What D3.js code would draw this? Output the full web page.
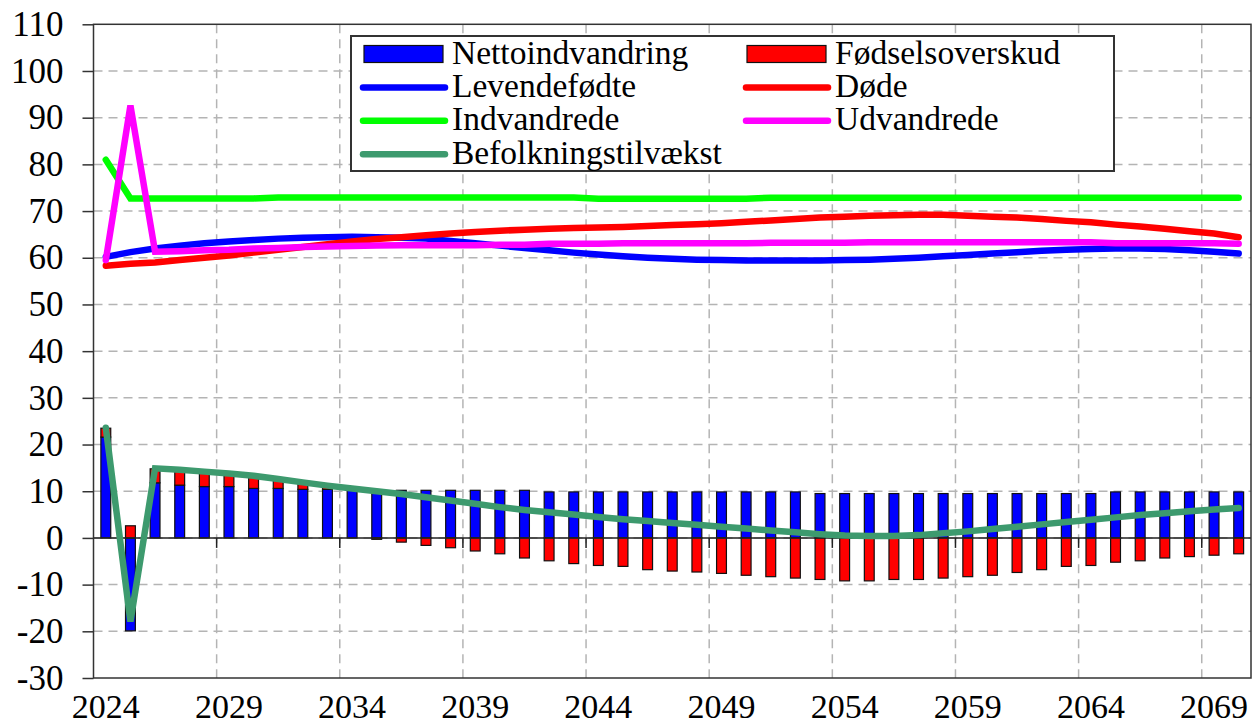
<!DOCTYPE html>
<html>
<head>
<meta charset="utf-8">
<script src="https://cdn.jsdelivr.net/npm/d3@7"></script>
</head>
<body style="margin:0">
<div id="chartArea"></div>
<script>
const w = 1254;
const h = 725;
const margin = {top: 24.3, right: 3, bottom: 47, left: 93.5};
const serif = `"Liberation Serif"`;

const years = d3.range(2024, 2071);
const xTickLabels = ["2024", "2029", "2034", "2039", "2044", "2049", "2054", "2059", "2064", "2069"];
const yTicks = [-30, -20, -10, 0, 10, 20, 30, 40, 50, 60, 70, 80, 90, 100, 110];

// bars
const nettoindvandring = [21.6, -19.9, 11.8, 11.3, 11.0, 11.0, 10.6, 10.6, 10.4, 10.4, 10.3, 10.3,
    10.2, 10.2, 10.2, 10.2, 10.2, 10.2,
    9.85, 9.85, 9.85, 9.85, 9.85, 9.85, 9.85, 9.85, 9.85, 9.85, 9.85,
    9.5, 9.5, 9.5, 9.5, 9.5, 9.5, 9.5, 9.5, 9.5, 9.5, 9.5, 9.5,
    9.85, 9.85, 9.85, 9.85, 9.85, 9.85];
const fodselsoverskud = [1.9, 2.6, 3.0, 3.1, 3.0, 2.7, 2.5, 1.9, 1.3, 0.7, 0.2,
    -0.3, -0.9, -1.6, -2.1, -2.8, -3.4, -4.3, -4.9, -5.5, -5.9, -6.1, -6.8, -7.1, -7.3, -7.6, -8.0, -8.3, -8.6, -8.9, -9.2,
    -9.2, -8.9, -8.9, -8.6, -8.3, -8.0, -7.4, -6.8, -6.1, -5.9, -5.2, -4.9, -4.3, -4.0, -3.7, -3.4];

// lines
const levendefodte = [60.2, 61.2, 62.0, 62.6, 63.1, 63.5, 63.8, 64.1, 64.3, 64.4,
    64.5, 64.4, 64.3, 64.1, 63.6, 63.1, 62.6, 62.1, 61.6, 61.1,
    60.7, 60.3, 60.0, 59.8, 59.6, 59.5, 59.4, 59.4, 59.4, 59.4,
    59.5, 59.6, 59.8, 60.0, 60.3, 60.6, 60.9, 61.2, 61.5, 61.7,
    61.9, 62.0, 62.0, 61.9, 61.6, 61.3, 60.9];
const dode = [58.3, 58.7, 59.0, 59.5, 60.0, 60.5, 61.1, 61.7, 62.3, 62.9,
    63.5, 64.0, 64.4, 64.8, 65.2, 65.5, 65.8, 66.0, 66.2, 66.4,
    66.5, 66.6, 66.8, 67.0, 67.2, 67.4, 67.7, 68.0, 68.3, 68.6,
    68.8, 69.0, 69.1, 69.2, 69.2, 69.0, 68.8, 68.6, 68.3, 67.9,
    67.6, 67.1, 66.7, 66.2, 65.7, 65.2, 64.4];
const indvandrede = [81.0, 72.7, 72.7, 72.7, 72.7, 72.7, 72.7,
    72.9, 72.9, 72.9, 72.9, 72.9, 72.9, 72.9, 72.9, 72.9, 72.9, 72.9, 72.9, 72.9,
    72.65, 72.65, 72.65, 72.65, 72.65, 72.65, 72.65,
    72.85, 72.85, 72.85, 72.85, 72.85, 72.85, 72.85, 72.85, 72.85, 72.85,
    72.85, 72.85, 72.85, 72.85, 72.85, 72.85, 72.85, 72.85, 72.85, 72.85];
const udvandrede = [59.5, 92.6, 61.3, 61.4, 61.6, 61.7, 62.0, 62.1, 62.3, 62.4, 62.5, 62.6,
    62.7, 62.7, 62.7, 62.7, 62.8, 62.8, 63.0, 63.0, 63.0,
    63.1, 63.1, 63.1, 63.1, 63.1, 63.1,
    63.2, 63.2, 63.2, 63.2,
    63.3, 63.3, 63.3, 63.3, 63.3, 63.3, 63.3, 63.3, 63.3, 63.3,
    63.1, 63.1, 63.1, 63.1, 63.1, 63.0];
const befolkningstilvaekst = [23.6, -17.9, 14.9, 14.6, 14.2, 13.8, 13.3, 12.6, 11.9, 11.2,
    10.6, 10.0, 9.4, 8.7, 8.0, 7.3, 6.6, 6.0, 5.5, 5.0,
    4.5, 4.0, 3.6, 3.2, 2.8, 2.4, 2.0, 1.6, 1.2, 0.8,
    0.5, 0.4, 0.4, 0.6, 1.0, 1.4, 1.9, 2.4, 2.9, 3.4,
    3.9, 4.4, 4.9, 5.3, 5.7, 6.1, 6.4];

const barSeries = [
    {key: "Nettoindvandring", values: nettoindvandring, color: "#0000ff"},
    {key: "Fødselsoverskud", values: fodselsoverskud, color: "#ff0000"}
];
const lineSeries = [
    {key: "Levendefødte", values: levendefodte, color: "#0000ff"},
    {key: "Døde", values: dode, color: "#ff0000"},
    {key: "Indvandrede", values: indvandrede, color: "#00ff00"},
    {key: "Udvandrede", values: udvandrede, color: "#ff00ff"},
    {key: "Befolkningstilvækst", values: befolkningstilvaekst, color: "#3d9a6e"}
];

const svg = d3.select("#chartArea")
    .append("svg")
    .attr("width", w)
    .attr("height", h)
    .style("font-family", serif);

const x = d3.scaleBand()
    .domain(years)
    .range([margin.left, w - margin.right]);

const y = d3.scaleLinear()
    .domain([-30, 110])
    .range([h - margin.bottom, margin.top]);

const plotLeft = margin.left, plotRight = w - margin.right;
const plotTop = margin.top, plotBottom = h - margin.bottom;

// grid
const grid = svg.append("g")
    .attr("stroke", "#b4b4b4")
    .attr("stroke-width", 1.5)
    .attr("stroke-dasharray", "9,6");

grid.selectAll(".hgrid")
    .data(yTicks.filter(t => t > -30 && t < 110))
    .enter()
    .append("line")
    .attr("x1", plotLeft).attr("x2", plotRight)
    .attr("y1", d => y(d)).attr("y2", d => y(d));

grid.selectAll(".vgrid")
    .data(xTickLabels.slice(1))
    .enter()
    .append("line")
    .attr("x1", d => x(+d)).attr("x2", d => x(+d))
    .attr("y1", plotTop).attr("y2", plotBottom);

// stacked bars (diverging)
const table = years.map((yr, i) => {
    let row = {year: yr};
    barSeries.forEach(s => row[s.key] = s.values[i]);
    return row;
});

const stacked = d3.stack()
    .keys(barSeries.map(s => s.key))
    .offset(d3.stackOffsetDiverging)(table);

const barW = x.bandwidth() * 0.4;

svg.append("g")
    .selectAll("g")
    .data(stacked)
    .enter()
    .append("g")
    .attr("fill", (d, i) => barSeries[i].color)
    .selectAll("rect")
    .data(d => d)
    .enter()
    .append("rect")
    .attr("x", d => x(d.data.year) + (x.bandwidth() - barW) / 2)
    .attr("y", d => y(Math.max(d[0], d[1])))
    .attr("width", barW)
    .attr("height", d => Math.abs(y(d[0]) - y(d[1])))
    .attr("stroke", "#111")
    .attr("stroke-width", 1.2);

// zero line with ticks
svg.append("line")
    .attr("x1", plotLeft).attr("x2", plotRight)
    .attr("y1", y(0)).attr("y2", y(0))
    .attr("stroke", "#222")
    .attr("stroke-width", 1.5);

svg.selectAll(".ztick")
    .data(xTickLabels.slice(1))
    .enter()
    .append("line")
    .attr("x1", d => x(+d)).attr("x2", d => x(+d))
    .attr("y1", y(0)).attr("y2", y(0) + 10)
    .attr("stroke", "#222")
    .attr("stroke-width", 1.5);

// lines
const line = d3.line()
    .x((d, i) => x(years[i]) + x.bandwidth() / 2)
    .y(d => y(d));

svg.append("g")
    .selectAll("path")
    .data(lineSeries)
    .enter()
    .append("path")
    .attr("d", d => line(d.values))
    .attr("fill", "none")
    .attr("stroke", d => d.color)
    .attr("stroke-width", 6.5)
    .attr("stroke-linecap", "round")
    .attr("stroke-linejoin", "miter")
    .attr("stroke-miterlimit", 4);

// frame
svg.append("rect")
    .attr("x", plotLeft).attr("y", plotTop)
    .attr("width", plotRight - plotLeft).attr("height", plotBottom - plotTop)
    .attr("fill", "none")
    .attr("stroke", "#333")
    .attr("stroke-width", 1.5);

// axes
const yAxis = d3.axisLeft(y)
    .tickValues(yTicks)
    .tickSize(11)
    .tickPadding(19)
    .tickFormat(d3.format("d"));

const gy = svg.append("g")
    .attr("transform", `translate(${plotLeft},0)`)
    .call(yAxis)
    .attr("font-family", null)
    .attr("font-size", null);
gy.select(".domain").remove();
gy.selectAll(".tick line").attr("stroke", "#333").attr("stroke-width", 1.5);
gy.selectAll(".tick text")
    .style("font-family", serif)
    .attr("font-size", 35)
    .attr("fill", "#000")
    .text(d => d < 0 ? "-" + Math.abs(d) : d);

const xAxis = d3.axisBottom(x)
    .tickValues(xTickLabels.map(Number))
    .tickSize(0)
    .tickPadding(16);

const gx = svg.append("g")
    .attr("transform", `translate(0,${plotBottom})`)
    .call(xAxis)
    .attr("font-family", null)
    .attr("font-size", null);
gx.select(".domain").remove();
gx.selectAll(".tick text")
    .style("font-family", serif)
    .attr("font-size", 34)
    .attr("fill", "#000");

// legend
const legendItems = [
    {label: "Nettoindvandring", color: "#0000ff", type: "bar", col: 0, row: 0},
    {label: "Fødselsoverskud", color: "#ff0000", type: "bar", col: 1, row: 0},
    {label: "Levendefødte", color: "#0000ff", type: "line", col: 0, row: 1},
    {label: "Døde", color: "#ff0000", type: "line", col: 1, row: 1},
    {label: "Indvandrede", color: "#00ff00", type: "line", col: 0, row: 2},
    {label: "Udvandrede", color: "#ff00ff", type: "line", col: 1, row: 2},
    {label: "Befolkningstilvækst", color: "#3d9a6e", type: "line", col: 0, row: 3}
];
const colX = [364, 747];
const rowY = [54, 87.4, 120.8, 154.2];

const legend = svg.append("g");
legend.append("rect")
    .attr("x", 351).attr("y", 36)
    .attr("width", 763).attr("height", 135)
    .attr("fill", "#fff")
    .attr("stroke", "#333")
    .attr("stroke-width", 2);

const li = legend.selectAll(".li")
    .data(legendItems)
    .enter()
    .append("g")
    .attr("transform", d => `translate(${colX[d.col]},${rowY[d.row]})`);

li.filter(d => d.type === "bar")
    .append("rect")
    .attr("x", 0).attr("y", -8.5)
    .attr("width", 79).attr("height", 17)
    .attr("fill", d => d.color)
    .attr("stroke", "#111")
    .attr("stroke-width", 1.2);

li.filter(d => d.type === "line")
    .append("line")
    .attr("x1", -1).attr("x2", 81)
    .attr("y1", 0).attr("y2", 0)
    .attr("stroke", d => d.color)
    .attr("stroke-width", 6.5)
    .attr("stroke-linecap", "round");

li.append("text")
    .attr("x", 88)
    .attr("y", 9.5)
    .style("font-family", serif)
    .attr("font-size", 33.5)
    .attr("fill", "#000")
    .text(d => d.label);
</script>
</body>
</html>
